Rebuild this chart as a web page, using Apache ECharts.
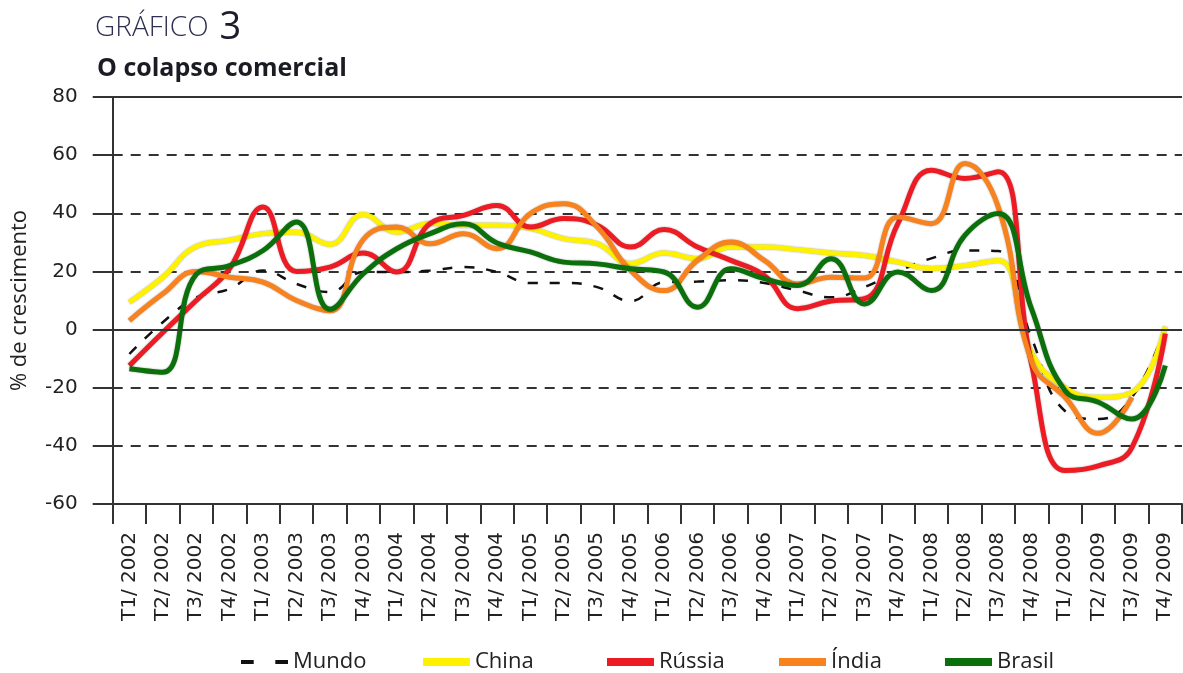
<!DOCTYPE html>
<html>
<head>
<meta charset="utf-8">
<script src="https://cdn.jsdelivr.net/npm/echarts@6/dist/echarts.min.js"></script>
<style>html,body{margin:0;padding:0;background:#fff;}#c{width:1183px;height:673px;}</style>
</head>
<body>
<div id="c"></div>
<script>
const categories = [
  'T1/ 2002','T2/ 2002','T3/ 2002','T4/ 2002',
  'T1/ 2003','T2/ 2003','T3/ 2003','T4/ 2003',
  'T1/ 2004','T2/ 2004','T3/ 2004','T4/ 2004',
  'T1/ 2005','T2/ 2005','T3/ 2005','T4/ 2005',
  'T1/ 2006','T2/ 2006','T3/ 2006','T4/ 2006',
  'T1/ 2007','T2/ 2007','T3/ 2007','T4/ 2007',
  'T1/ 2008','T2/ 2008','T3/ 2008','T4/ 2008',
  'T1/ 2009','T2/ 2009','T3/ 2009','T4/ 2009'
];
const mundo  = [-8.4, 2.5, 11, 14, 20.3, 15.7, 12.9, 19.8, 19.8, 20.3, 21.5, 19.8, 16, 16, 14.6, 9.8, 16.3, 16.5, 17, 16, 13.4, 11.1, 14.6, 20, 24.5, 27.2, 27, -3, -28, -30.8, -23.3, 1];
const china  = [9.4, 18, 28.6, 30.7, 33, 33.5, 29.3, 39.6, 33.5, 36.5, 35.8, 35.9, 34.8, 31.3, 29.6, 22.7, 26.3, 24.4, 28.4, 28.4, 27.5, 26.3, 25.5, 23.2, 21, 22, 23.8, -8, -20, -23.3, -21.6, 1];
const russia = [-12.4, -1, 10, 21, 42.2, 20, 21.5, 26.3, 19.8, 36.5, 39.3, 42.7, 35.3, 38.2, 35.9, 28.4, 34.4, 28.4, 23.8, 18.6, 7.2, 9.8, 10.6, 36.5, 54.8, 52, 54.3, -12, -48.5, -46.9, -40.6, -1.4];
const india  = [3.1, 12.3, 20, 18, 16.3, 10, 6.5, 31, 35.3, 29.5, 33, 27.8, 39.9, 43.3, 35.3, 20.3, 13.4, 23.8, 30.1, 23.8, 15.7, 18, 17.7, 38.7, 36.4, 57.1, 42.2, -11, -23.3, -35.7, -23.3, null];
const brasil = [-13.5, -14.7, 19, 22, 27.2, 37, 7, 19.2, 27.8, 33, 36.4, 29.8, 26.7, 23.2, 22.6, 20.9, 19.8, 7.7, 20.9, 17.5, 15.2, 24.4, 8.8, 19.8, 13.4, 32.4, 39.9, 7, -21, -25, -30.8, -12.4];
const yTicks = { min: -60, max: 80, interval: 20 };

const colors = { Mundo: '#111111', China: '#FFF200', 'Rússia': '#ED1C24', 'Índia': '#F7821E', Brasil: '#0B700B' };

const chart = echarts.init(document.getElementById('c'), null, { renderer: 'canvas' });

function lineSeries(name, data, extra) {
  return Object.assign({
    name: name, type: 'line', data: data, smooth: 0.45, symbol: 'none',
    connectNulls: false,
    lineStyle: { color: colors[name], width: 5, shadowColor: 'rgba(0,0,0,0.35)', shadowBlur: 2 },
    itemStyle: { color: colors[name] },
    emphasis: { disabled: true }
  }, extra || {});
}

const legendText = { fontFamily: 'Open Sans', fontSize: 22, color: '#222' };
function legendItem(name, left, icon) {
  return {
    data: [{ name: name, icon: icon || 'rect' }],
    left: left, top: 646, itemWidth: 47, itemHeight: 8, itemGap: 8,
    textStyle: legendText, selectedMode: false
  };
}

chart.setOption({
  animation: false,
  backgroundColor: '#fff',
  title: [
    { text: '{a|GRÁFICO} {b|3}', left: 90, top: 4,
      textStyle: { rich: {
        a: { fontFamily: 'Open Sans', fontWeight: 300, fontSize: 28, color: '#2d3150' },
        b: { fontFamily: 'Open Sans', fontWeight: 400, fontSize: 38, color: '#1c1c2c', padding: [0, 0, 0, 6] } } } },
    { text: 'O colapso comercial', left: 92, top: 51,
      textStyle: { fontFamily: 'Open Sans', fontWeight: 'bold', fontSize: 25, color: '#1b1b24' } }
  ],
  legend: [
    legendItem('Mundo', 236, 'path://M0,0h10v3h-10z M27,0h10v3h-10z'),
    legendItem('China', 418),
    legendItem('Rússia', 602),
    legendItem('Índia', 774),
    legendItem('Brasil', 940)
  ],
  grid: { left: 112.7, right: 1, top: 97, bottom: 169, containLabel: false },
  xAxis: {
    type: 'category', data: categories, boundaryGap: true,
    axisLine: { show: true, onZero: false, lineStyle: { color: '#333', width: 2 } },
    axisTick: { show: true, length: 20, lineStyle: { color: '#333', width: 2 } },
    axisLabel: { rotate: 90, margin: 28, fontFamily: 'DejaVu Sans', fontSize: 20, color: '#222', interval: 0 },
    splitLine: { show: false }
  },
  yAxis: {
    type: 'value', min: yTicks.min, max: yTicks.max, interval: yTicks.interval,
    name: '% de crescimento', nameLocation: 'middle', nameGap: 82, nameRotate: 90,
    nameTextStyle: { fontFamily: 'Open Sans', fontSize: 22, color: '#222' },
    axisLine: { show: true, lineStyle: { color: '#333', width: 2 } },
    axisTick: { show: true, length: 20, lineStyle: { color: '#333', width: 2 } },
    axisLabel: { margin: 35, fontFamily: 'DejaVu Sans', fontSize: 20, color: '#222' },
    splitLine: { show: true, lineStyle: { color: '#333', width: 2, type: [10, 8] } }
  },
  series: [
    lineSeries('Mundo', mundo, {
      lineStyle: { color: colors.Mundo, width: 2.5, type: [10, 12] },
      markLine: { silent: true, symbol: 'none', label: { show: false },
        lineStyle: { color: '#333', width: 2, type: 'solid' },
        data: [{ yAxis: 0 }, { yAxis: 80 }] }
    }),
    lineSeries('China', china),
    lineSeries('Rússia', russia),
    lineSeries('Índia', india),
    lineSeries('Brasil', brasil)
  ]
});
</script>
</body>
</html>
